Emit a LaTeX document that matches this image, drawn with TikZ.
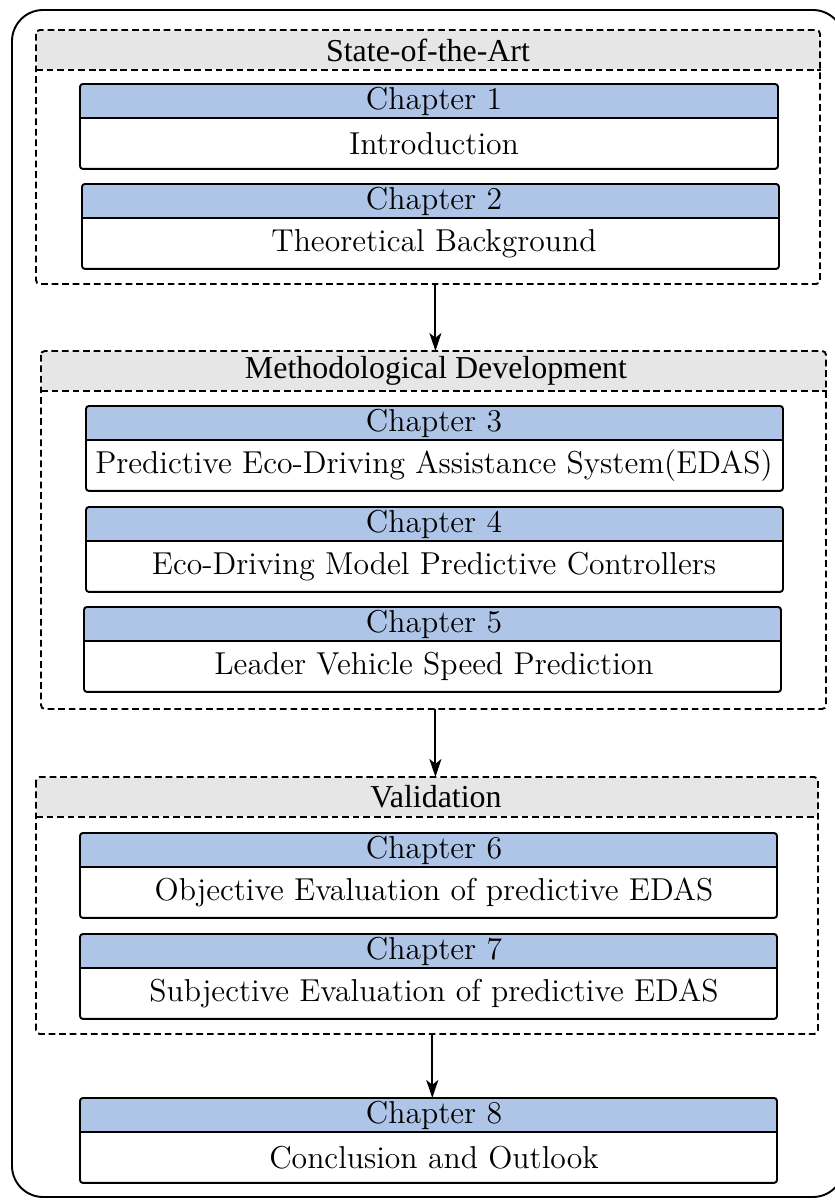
\documentclass[tikz,border=0pt]{standalone}
\usepackage{fontspec}
\usetikzlibrary{arrows.meta,calc}
\newfontfamily\chapfont{lmroman12-regular}[Extension=.otf]
\newfontfamily\partfont{Liberation Serif}
\definecolor{headblue}{HTML}{AFC5E7}
\definecolor{headgray}{HTML}{E6E6E6}
\newcommand\pxu{0.4167pt}

\tikzset{
  chaphead/.style={fill=headblue, rounded corners=1.2pt, inner sep=0pt,
    minimum height=33*\pxu},
  chapbody/.style={fill=white, inner sep=0pt, minimum height=50*\pxu},
  chaptext/.style={inner sep=0pt, font=\chapfont\fontsize{13.2}{15}\selectfont},
  chapline/.style={draw=black, line width=0.8pt, rounded corners=1.2pt},
  parthead/.style={fill=headgray, rounded corners=1.6pt, inner sep=0pt,
    minimum height=39*\pxu},
  parttext/.style={inner sep=0pt, font=\partfont\fontsize{13.3}{15}\selectfont},
  partline/.style={draw=black, line width=0.8pt, rounded corners=1.6pt,
    dash pattern=on 2.8pt off 1.6pt},
  flow/.style={draw=black, line width=0.8pt,
    -{Stealth[length=7.5pt, width=5pt, inset=2pt]}},
  frame/.style={draw=black, line width=0.8pt, rounded corners=13pt},
}

% texts of all blocks sit on one common vertical axis
\newcommand\axis{434}

% one chapter block: name, x, y (top left), width, title, subtitle
\newcommand\chapblock[6]{%
  \node[chaphead, minimum width=#4*\pxu, anchor=north west] (#1h) at (#2,#3) {};
  \node[chapbody, minimum width=#4*\pxu, anchor=north west] (#1b) at (#1h.south west) {};
  \draw[chapline] (#1h.north west) rectangle (#1b.south east);
  \draw[chapline] (#1h.south west) -- (#1h.south east);
  \node[chaptext] (#1ht) at (\axis, 0 |- #1h.center) {#5};
  \node[chaptext] (#1bt) at (\axis, 0 |- #1b.center) {#6};
}
% one part frame: name, x, y (top left), width, height, text axis, title
\newcommand\partblock[7]{%
  \node[parthead, minimum width=#4*\pxu, anchor=north west] (#1) at (#2,#3) {};
  \coordinate (#1se) at ($(#1.north west)+(#4,#5)$);
  \draw[partline] (#1.north west) rectangle (#1se);
  \draw[partline, rounded corners=0pt] (#1.south west) -- (#1.south east);
  \node[parttext] (#1t) at (#6, 0 |- #1.center) {#7};
}

\begin{document}
\begin{tikzpicture}[x=0.4167pt, y=-0.4167pt]
  \useasboundingbox (0,0) rectangle (834,1200);
  \path[frame] (12,10) rectangle (844,1197);

  % State of the art
  \partblock{sa}{36}{30}{784}{254}{428}{State-of-the-Art}
  \chapblock{ca}{80}{84}{697}{Chapter 1}{Introduction}
  \chapblock{cb}{82}{184}{696}{Chapter 2}{Theoretical Background}

  % Methods
  \partblock{md}{41}{351}{785}{358}{436}{Methodological Development}
  \chapblock{cc}{86}{406}{696}{Chapter 3}{Predictive Eco-Driving Assistance System(EDAS)}
  \chapblock{cd}{86}{507}{696}{Chapter 4}{Eco-Driving Model Predictive Controllers}
  \chapblock{ce}{84}{607}{696}{Chapter 5}{Leader Vehicle Speed Prediction}

  % Validation
  \partblock{va}{36}{777}{782}{257}{436}{Validation}
  \chapblock{cf}{80}{833}{696}{Chapter 6}{Objective Evaluation of predictive EDAS}
  \chapblock{cg}{80}{934}{696}{Chapter 7}{Subjective Evaluation of predictive EDAS}

  % Closing chapter
  \chapblock{ch}{80}{1098}{696}{Chapter 8}{Conclusion and Outlook}

  % flow between the parts
  \coordinate (sabot) at (sase -| md.north);
  \draw[flow] ([xshift=0.6pt]sabot) -- ([xshift=0.6pt]md.north);
  \coordinate (mdbot) at (mdse -| md.north);
  \draw[flow] ([xshift=0.6pt]mdbot) -- ([xshift=0.6pt]mdbot |- va.north);
  \coordinate (vabot) at (vase -| va.north);
  \draw[flow] ([xshift=2pt]vabot) -- ([xshift=2pt]vabot |- chh.north);
\end{tikzpicture}
\end{document}
